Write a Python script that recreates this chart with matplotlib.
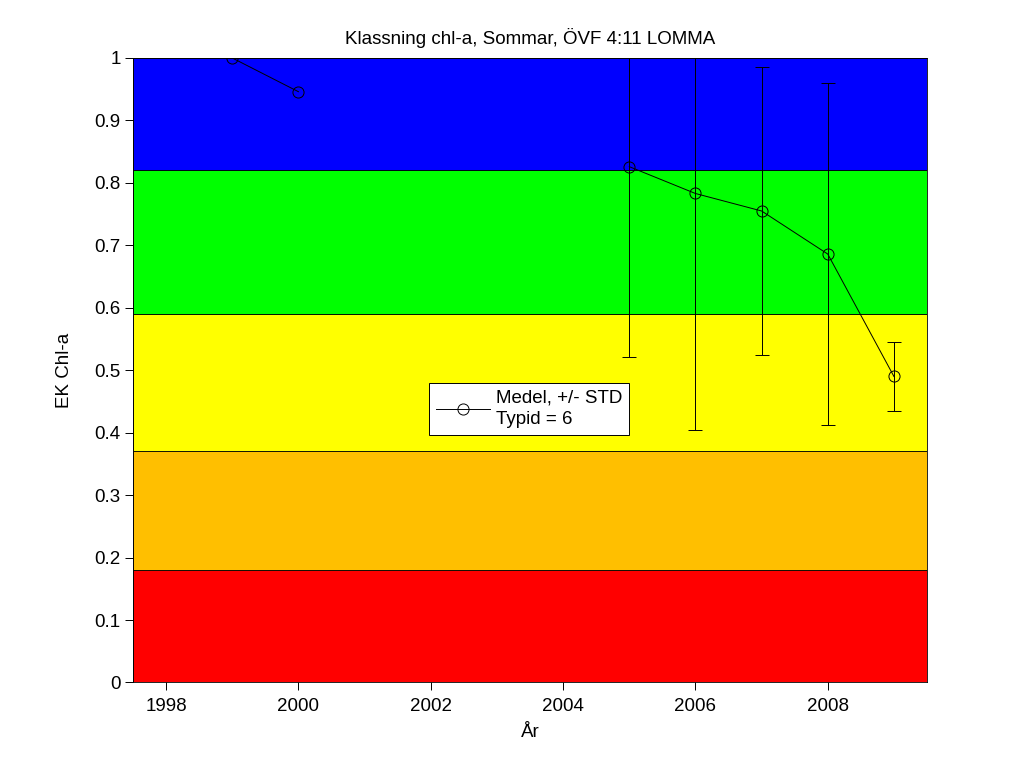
import numpy as np
import matplotlib.pyplot as plt

plt.rcParams['font.family'] = ['Liberation Sans', 'DejaVu Sans']

# Data
years = [1999, 2000, 2001, 2002, 2003, 2004, 2005, 2006, 2007, 2008, 2009]
medel = [1.0, 0.946, np.nan, np.nan, np.nan, np.nan, 0.826, 0.783, 0.755, 0.686, 0.490]
std = [np.nan, np.nan, np.nan, np.nan, np.nan, np.nan, 0.305, 0.378, 0.230, 0.274, 0.056]

# class boundaries (EK) and colours, bottom to top
class_limits = [0.0, 0.18, 0.37, 0.59, 0.82, 1.0]
class_colors = ['#ff0000', '#ffbf00', '#ffff00', '#00ff00', '#0000ff']

fs = 13.5

fig = plt.figure(figsize=(10.24, 7.67), dpi=100)
ax = fig.add_axes([0.1299, 0.1102, 0.7754, 0.8142])

for i, c in enumerate(class_colors):
    ax.axhspan(class_limits[i], class_limits[i + 1], facecolor=c,
               edgecolor='black', linewidth=0.6, zorder=1)

ax.plot(years, medel, color='black', linewidth=0.7, marker='o', markersize=8,
        markerfacecolor='none', markeredgewidth=0.7, zorder=3,
        label='Medel, +/- STD\nTypid = 6')
ax.errorbar(years, medel, yerr=std, fmt='none', ecolor='black', elinewidth=0.7,
            capsize=4.7, capthick=0.7, zorder=3)

ax.set_xlim(1997.5, 2009.5)
ax.set_ylim(0, 1)
ax.set_xticks([1998, 2000, 2002, 2004, 2006, 2008])
ax.set_yticks(np.arange(0, 1.01, 0.1))
ax.set_yticklabels(['0', '0.1', '0.2', '0.3', '0.4', '0.5', '0.6', '0.7', '0.8', '0.9', '1'])
ax.tick_params(direction='out', length=5.5, width=0.7, labelsize=fs, top=False, right=False)
ax.tick_params(axis='x', pad=6)
for s in ax.spines.values():
    s.set_linewidth(0.6)

ax.set_title('Klassning chl-a, Sommar, ÖVF 4:11 LOMMA', fontsize=fs, pad=10)
ax.set_xlabel('År', fontsize=fs, labelpad=6)
ax.set_ylabel('EK Chl-a', fontsize=fs, labelpad=15)

leg = ax.legend(loc='upper left', bbox_to_anchor=(0.3728, 0.4796), fontsize=fs,
                fancybox=False, framealpha=1, edgecolor='black', handlelength=2.9,
                labelspacing=0.05, borderpad=0.35, handletextpad=0.3, borderaxespad=0)
leg.get_frame().set_linewidth(0.7)
for t in leg.get_texts():
    t.set_linespacing(1.35)

fig.savefig('out.png', dpi=100)
